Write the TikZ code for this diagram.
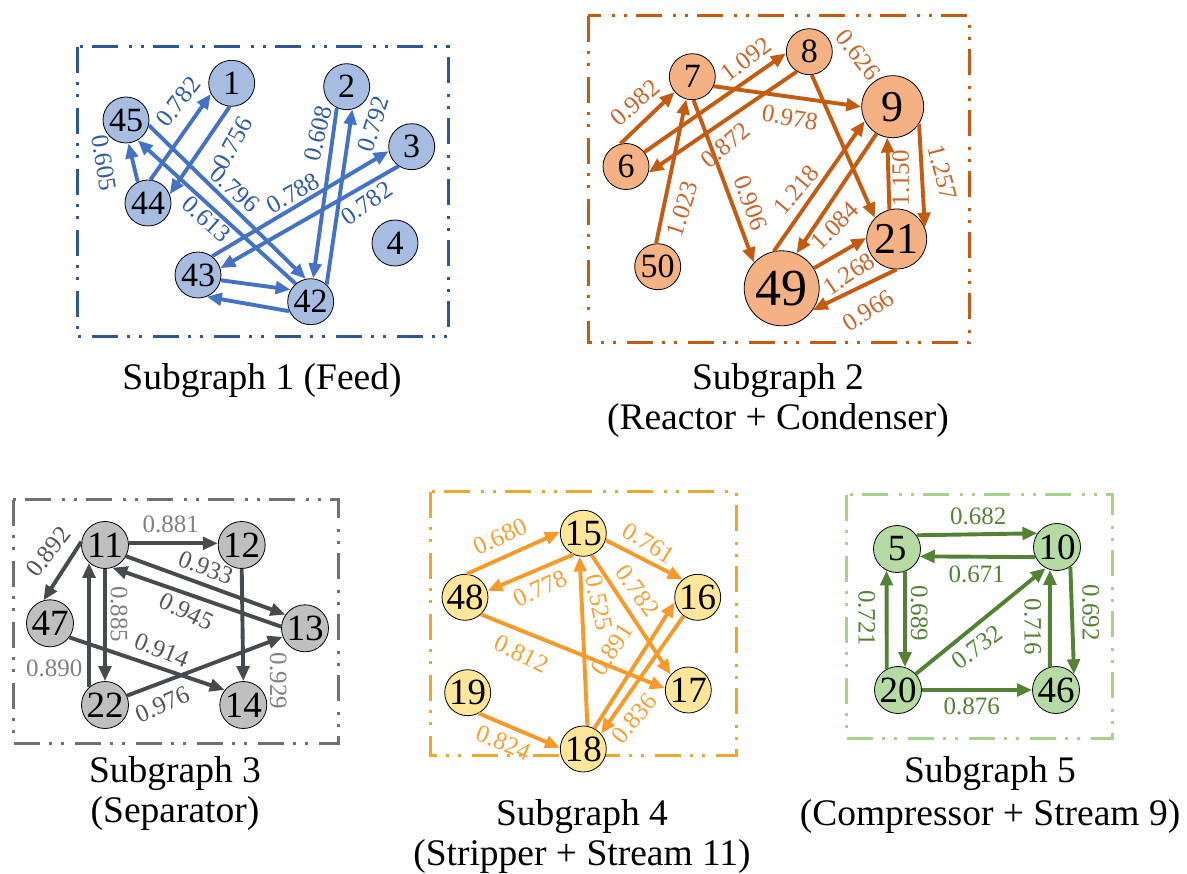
\documentclass[tikz,border=0pt]{standalone}
\usepackage{fontspec}
\setmainfont{Liberation Serif}
\usetikzlibrary{arrows.meta}
% subgraph palettes
\definecolor{bframe}{HTML}{2F5597}\definecolor{bfill}{HTML}{A6BDE1}\definecolor{bedge}{HTML}{4472C4}\definecolor{btext}{HTML}{2F5BA3}
\definecolor{oframe}{HTML}{C55A11}\definecolor{ofill}{HTML}{F4B183}\definecolor{oedge}{HTML}{C55A11}\definecolor{otext}{HTML}{C8652A}
\definecolor{gframe}{HTML}{707070}\definecolor{gfill}{HTML}{BFBFBF}\definecolor{gedge}{HTML}{464B50}\definecolor{gdark}{HTML}{555555}\definecolor{glight}{HTML}{808080}
\definecolor{yframe}{HTML}{E8AA2C}\definecolor{yfill}{HTML}{FFE699}\definecolor{yedge}{HTML}{F79A2A}\definecolor{ytext}{HTML}{F5A033}
\definecolor{vframe}{HTML}{A9D18E}\definecolor{vfill}{HTML}{B5DAA4}\definecolor{vedge}{HTML}{548235}\definecolor{vtext}{HTML}{548235}
\begin{document}
\begin{tikzpicture}[x=1pt,y=-1pt,
  nd/.style={circle, draw=black, line width=0.8pt, inner sep=0pt, minimum size=46pt, font=\fontsize{34}{34}\selectfont},
  bignd/.style={nd, minimum size=47pt, font=\fontsize{37}{37}\selectfont},
  lbl/.style={font=\fontsize{25}{25}\selectfont, inner sep=0pt},
  arr/.style={line width=3.9pt, -{Triangle[length=15pt,width=12.5pt]}},
  frame/.style={line width=3pt, dash pattern=on 26pt off 9pt on 3pt off 9pt on 3pt off 11pt},
  ttl/.style={font=\fontsize{37.5}{40}\selectfont, anchor=base, inner sep=0pt}]
\useasboundingbox (0,0) rectangle (1187,874);

% ---------- Subgraph 1 (Feed) ----------
\draw[frame, draw=bframe] (77,47) rectangle (448,337);
\node[nd, fill=bfill] (n1) at (231.7,83.3) {1};
\node[nd, fill=bfill] (n45) at (126,120) {45};
\node[nd, fill=bfill] (n44) at (148,203) {44};
\node[nd, fill=bfill] (n2) at (346.7,86.7) {2};
\node[nd, fill=bfill] (n3) at (411.7,146.7) {3};
\node[nd, fill=bfill] (n4) at (395,243) {4};
\node[nd, fill=bfill] (n43) at (198,275) {43};
\node[nd, fill=bfill] (n42) at (310.7,301.7) {42};
\begin{scope}[arr, color=bedge]
\draw (n44.84) -- (n1.207);
\draw (n1.265) -- (n44.22);
\draw (n44.116) -- (n45.276);
\draw (n45.347) -- (n42.102);
\draw (n42.130) -- (n45.300);
\draw (n2.245) -- (n42.84);
\draw (n42.47) -- (n2.284);
\draw (n43.53) -- (n3.191);
\draw (n3.236) -- (n43.17);
\draw (n43.347) -- (n42.149);
\draw (n42.204) -- (n43.292);
\end{scope}
\begin{scope}[every node/.style={lbl, text=btext}]
\node[rotate=52] (l1a) at (178.3,101.7) {0.782};
\node[rotate=61] (l1b) at (233.3,143.3) {0.756};
\node[rotate=-81] (l1c) at (104,162.7) {0.605};
\node[rotate=-42] (l1d) at (235,189.3) {0.796};
\node[rotate=-42] (l1e) at (206.7,219.3) {0.613};
\node[rotate=29] (l1f) at (293.3,193.3) {0.788};
\node[rotate=35] (l1g) at (366.7,203.3) {0.782};
\node[rotate=76] (l1h) at (318.3,133.3) {0.608};
\node[rotate=72] (l1i) at (373.3,124) {0.792};
\end{scope}
\node[ttl] (t1) at (262,390) {Subgraph 1 (Feed)};

% ---------- Subgraph 2 (Reactor + Condenser) ----------
\draw[frame, draw=oframe] (588,16) rectangle (969,343);
\node[nd, fill=ofill] (n7) at (692.3,76.7) {7};
\node[nd, fill=ofill] (n6) at (626,166.5) {6};
\node[nd, fill=ofill] (n8) at (809.3,51.7) {8};
\node[nd, fill=ofill, minimum size=62pt, font=\fontsize{44}{44}\selectfont] (n9) at (892.7,106.7) {9};
\node[nd, fill=ofill, minimum size=60pt, font=\fontsize{44}{44}\selectfont] (n21) at (896.7,239) {21};
\node[nd, fill=ofill, minimum size=75pt, font=\fontsize{52}{52}\selectfont] (n49) at (781.7,288.3) {49};
\node[nd, fill=ofill] (n50) at (657.7,266.7) {50};
\begin{scope}[arr, color=oedge]
\draw (n6.104) -- (n7.221);
\draw (n6.38) -- (n8.184);
\draw (n8.238) -- (n6.345);
\draw (n7.336) -- (n9.180);
\draw (n8.276) -- (n21.136);
\draw (n7.273) -- (n49.137);
\draw (n50.94) -- (n7.255);
\draw (n49.102) -- (n9.207);
\draw (n9.239) -- (n49.67);
\draw (n21.104) -- (n9.260);
\draw (n9.327) -- (n21.22);
\draw (n49.32) -- (n21.178);
\draw (n21.270) -- (n49.325);
\end{scope}
\begin{scope}[every node/.style={lbl, text=otext}]
\node[rotate=42] (l2a) at (635,102.7) {0.982};
\node[rotate=37] (l2b) at (745.7,59.3) {1.092};
\node[rotate=40] (l2c) at (725.7,145) {0.872};
\node[rotate=-10] (l2d) at (790,117.7) {0.978};
\node[rotate=-52] (l2e) at (858.3,55) {0.626};
\node[rotate=-70] (l2f) at (750.7,202.7) {0.906};
\node[rotate=72] (l2g) at (682.3,209.3) {1.023};
\node[rotate=50] (l2h) at (796.7,190) {1.218};
\node[rotate=45] (l2i) at (835,226) {1.084};
\node[rotate=90] (l2j) at (900.7,178.3) {1.150};
\node[rotate=-75] (l2k) at (942.3,172.7) {1.257};
\node[rotate=34] (l2l) at (849,274) {1.268};
\node[rotate=33] (l2m) at (868.3,310.7) {0.966};
\end{scope}
\node[ttl] (t2a) at (778,390) {Subgraph 2};
\node[ttl] (t2b) at (778,430) {(Reactor + Condenser)};

% ---------- Subgraph 3 (Separator) ----------
\draw[frame, draw=gframe] (13,500) rectangle (338,743);
\node[bignd, fill=gfill] (n11) at (105,545) {11};
\node[bignd, fill=gfill] (n12) at (241.7,545) {12};
\node[bignd, fill=gfill] (n13) at (305,628.3) {13};
\node[bignd, fill=gfill] (n47) at (50,623.3) {47};
\node[bignd, fill=gfill] (n22) at (105,705) {22};
\node[bignd, fill=gfill] (n14) at (243.3,705) {14};
\begin{scope}[arr, color=gedge]
\draw (n11.4) -- (n12.176);
\draw (n11.172) -- (n47.106);
\draw (n11.332) -- (n13.145);
\draw (n13.176) -- (n11.288);
\draw (n11.270) -- (n22.90);
\draw (n22.132) -- (n11.228);
\draw (n12.270) -- (n14.90);
\draw (n47.324) -- (n14.141);
\draw (n22.23) -- (n13.201);
\end{scope}
\begin{scope}[every node/.style={lbl}]
\node[text=glight] (l3a) at (170.7,524.3) {0.881};
\node[text=gdark, rotate=52] (l3b) at (48.3,551.7) {0.892};
\node[text=gdark, rotate=-21] (l3c) at (205.7,567.7) {0.933};
\node[text=gdark, rotate=-26] (l3d) at (186.7,611.7) {0.945};
\node[text=glight, rotate=-90] (l3e) at (119,614.3) {0.885};
\node[text=glight] (l3f) at (54.3,668.3) {0.890};
\node[text=glight, rotate=-90] (l3g) at (278.3,681) {0.929};
\node[text=gdark, rotate=-22] (l3h) at (161.7,650) {0.914};
\node[text=gdark, rotate=24] (l3i) at (162.3,704.3) {0.976};
\end{scope}
\node[ttl] (t3a) at (175,782) {Subgraph 3};
\node[ttl] (t3b) at (175,822) {(Separator)};

% ---------- Subgraph 4 (Stripper + Stream 11) ----------
\draw[frame, draw=yframe] (430,492) rectangle (736,755);
\node[bignd, fill=yfill, minimum size=46pt] (n15) at (583.3,533.3) {15};
\node[bignd, fill=yfill, minimum size=46pt] (n48) at (465,597.3) {48};
\node[bignd, fill=yfill, minimum size=46pt] (n16) at (697.7,597.3) {16};
\node[bignd, fill=yfill, minimum size=46pt] (n19) at (467.7,692.7) {19};
\node[bignd, fill=yfill, minimum size=46pt] (n17) at (688.3,690) {17};
\node[bignd, fill=yfill, minimum size=46pt] (n18) at (583.3,749) {18};
\begin{scope}[arr, color=yedge]
\draw (n48.86) -- (n15.177);
\draw (n15.245) -- (n48.16);
\draw (n15.343) -- (n16.130);
\draw (n15.291) -- (n17.139);
\draw (n48.313) -- (n17.176);
\draw (n18.80) -- (n15.261);
\draw (n18.62) -- (n16.192);
\draw (n16.233) -- (n18.41);
\draw (n19.298) -- (n18.177);
\end{scope}
\begin{scope}[every node/.style={lbl, text=ytext}]
\node[rotate=25] (l4a) at (500,536.7) {0.680};
\node[rotate=25] (l4b) at (540,588.3) {0.778};
\node[rotate=-32] (l4c) at (649,543.3) {0.761};
\node[rotate=-54] (l4d) at (637.7,590.7) {0.782};
\node[rotate=-26] (l4e) at (521.7,654) {0.812};
\node[rotate=-78] (l4f) at (599,602.7) {0.525};
\node[rotate=57] (l4g) at (611.7,649.3) {0.891};
\node[rotate=50] (l4h) at (634.3,718.3) {0.836};
\node[rotate=-22] (l4i) at (503.3,742.7) {0.824};
\end{scope}
\node[ttl] (t4a) at (582,825) {Subgraph 4};
\node[ttl] (t4b) at (582,865) {(Stripper + Stream 11)};

% ---------- Subgraph 5 (Compressor + Stream 9) ----------
\draw[frame, draw=vframe] (846,495) rectangle (1112,738);
\node[bignd, fill=vfill] (n5) at (897,549) {5};
\node[bignd, fill=vfill] (n10) at (1057,547) {10};
\node[bignd, fill=vfill] (n20) at (898,690) {20};
\node[bignd, fill=vfill] (n46) at (1056,690) {46};
\begin{scope}[arr, color=vedge]
\draw (n5.35) -- (n10.145);
\draw (n10.205) -- (n5.342);
\draw (n20.118) -- (n5.244);
\draw (n5.290) -- (n20.73);
\draw (n20.42) -- (n10.242);
\draw (n20.0) -- (n46.180);
\draw (n46.105) -- (n10.253);
\draw (n10.304) -- (n46.41);
\end{scope}
\begin{scope}[every node/.style={lbl, text=vtext}]
\node (l5a) at (978.3,516) {0.682};
\node (l5b) at (976.7,574) {0.671};
\node[rotate=-90] (l5c) at (866.7,618.3) {0.721};
\node[rotate=-90] (l5d) at (919.3,613.3) {0.689};
\node[rotate=37] (l5e) at (977.3,647.3) {0.732};
\node (l5f) at (971.7,706.7) {0.876};
\node[rotate=-90] (l5g) at (1032.7,626.7) {0.716};
\node[rotate=-90] (l5h) at (1090.7,612.7) {0.692};
\end{scope}
\node[ttl] (t5a) at (990,782) {Subgraph 5};
\node[ttl] (t5b) at (990,825) {(Compressor + Stream 9)};
\end{tikzpicture}
\end{document}
